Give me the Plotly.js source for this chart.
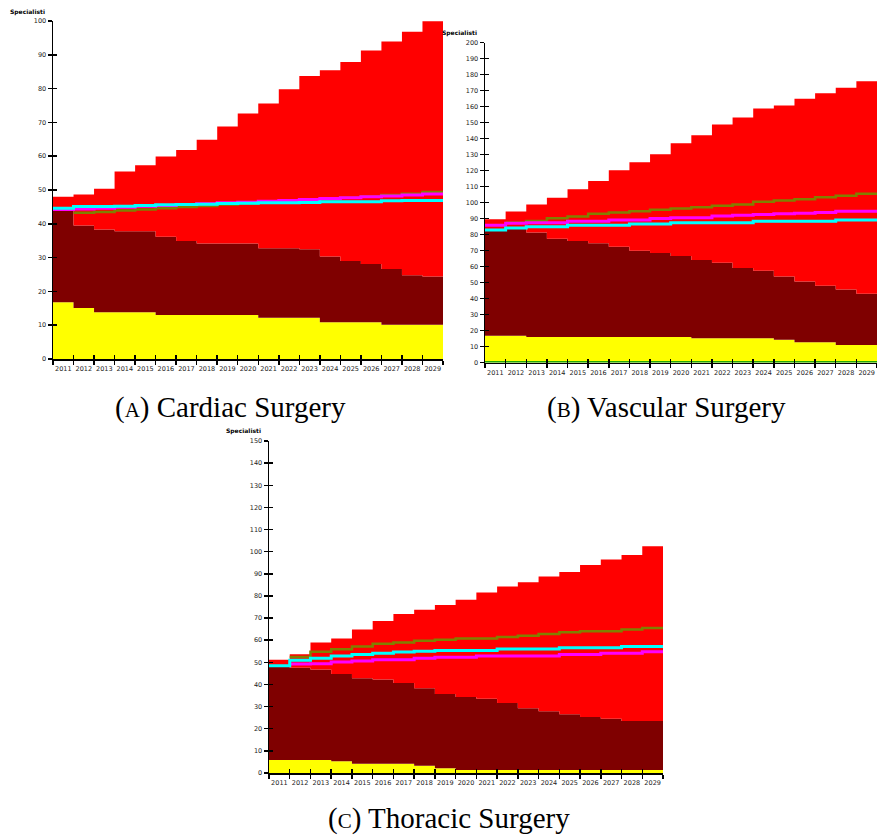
<!DOCTYPE html>
<html>
<head>
<meta charset="utf-8">
<script src="https://cdn.plot.ly/plotly-3.0.1.min.js"></script>
<style>html,body{margin:0;padding:0;background:#fff;}#chart{width:877px;height:837px;}</style>
</head>
<body>
<div id="chart"></div>
<script>
const years = [2011,2012,2013,2014,2015,2016,2017,2018,2019,2020,2021,2022,2023,2024,2025,2026,2027,2028,2029];
const yearLabels = years.map(String);

// (A) Cardiac Surgery — cumulative stack tops
const cardiacYellow  = [16.8,15.1,13.8,13.8,13.8,13.0,13.0,13.0,13.0,13.0,12.2,12.2,12.2,10.9,10.9,10.9,10.1,10.1,10.1];
const cardiacDarkRed = [43.9,39.5,38.3,37.8,37.8,36.2,34.9,34.2,34.2,34.2,32.8,32.8,32.5,30.3,29.0,28.1,26.6,24.8,24.4];
const cardiacRed     = [48.0,48.7,50.4,55.5,57.3,59.9,61.8,64.9,68.8,72.6,75.6,79.8,83.7,85.4,87.9,91.3,93.9,96.8,99.9];
const cardiacCyan    = [44.6,45.1,45.1,45.2,45.4,45.6,45.7,45.8,46.0,46.1,46.2,46.2,46.3,46.5,46.5,46.5,46.8,46.9,46.9];
const cardiacMagenta = [44.2,44.4,44.6,44.9,45.2,45.4,45.7,45.9,46.2,46.4,46.7,46.9,47.2,47.5,47.7,48.0,48.2,48.5,48.8];
const cardiacOlive   = [null,43.3,43.5,43.9,44.2,44.6,45.0,45.3,45.7,46.0,46.3,46.6,47.0,47.3,47.7,48.1,48.5,48.9,49.4];

// (B) Vascular Surgery
const vascularYellow  = [16.7,16.7,15.9,15.9,15.9,15.9,15.9,15.9,15.9,15.9,15.1,15.1,15.1,15.1,14.2,12.6,12.6,10.9,10.9];
const vascularDarkRed = [83.3,83.7,81.2,77.4,75.9,74.5,72.4,69.9,68.4,66.5,64.0,62.3,59.0,57.3,53.8,50.6,47.9,45.6,42.9];
const vascularRed     = [89.5,94.4,98.7,102.9,108.3,113.5,120.2,125.2,130.2,137.1,142.1,148.8,153.1,158.8,160.6,164.8,168.3,171.7,175.8];
const vascularCyan    = [82.8,84.1,84.9,84.9,85.8,85.8,85.8,86.6,86.6,87.4,87.4,87.4,87.4,88.3,88.3,88.3,88.3,89.1,89.1];
const vascularMagenta = [85.8,87.0,87.4,87.4,88.3,88.3,89.1,89.1,90.0,90.4,90.4,91.6,92.1,92.5,92.9,93.3,93.7,94.6,94.6];
const vascularOlive   = [null,87.4,88.5,90.2,91.2,92.9,93.7,94.6,95.4,96.2,97.1,97.9,98.7,100.4,101.3,102.1,103.3,104.2,105.4];
const vascularGreen   = [0,0,0,0,0,0,0,0,0,0,0,0,0,0,0,0,0,0,0];

// (C) Thoracic Surgery
const thoracicYellow  = [5.9,5.9,5.9,5.3,4.2,4.2,4.2,3.3,2.1,1.4,1.4,1.4,1.4,1.4,1.4,1.4,1.4,1.4,1.4];
const thoracicDarkRed = [47.9,47.6,46.8,44.7,42.8,42.2,40.7,38.3,35.7,34.3,33.6,31.6,29.2,27.9,26.5,25.3,24.5,23.5,23.5];
const thoracicRed     = [51.2,53.6,59.0,60.8,64.8,68.7,71.8,73.8,75.9,78.3,81.6,84.3,86.2,88.8,90.8,94.0,96.5,98.5,102.4];
const thoracicCyan    = [48.5,50.9,51.8,52.9,53.5,54.1,54.7,55.0,55.4,55.4,55.4,56.0,56.0,56.0,56.6,56.6,56.6,57.2,57.2];
const thoracicMagenta = [null,49.2,49.4,50.2,50.6,51.2,51.2,51.8,52.3,52.3,52.9,52.9,52.9,52.9,53.5,53.5,54.1,54.1,54.8];
const thoracicOlive   = [null,52.4,54.8,55.9,57.1,58.4,59.0,59.8,60.2,60.8,60.8,61.4,62.0,62.8,63.6,64.0,64.0,64.8,65.5];

const yAxisTitle = 'Specialisti';
const captions = ['Cardiac Surgery','Vascular Surgery','Thoracic Surgery'];
const captionLetters = ['A','B','C'];

const W = 877, H = 837;
const COL = {yellow:'#ffff00', darkred:'#7f0000', red:'#ff0000', cyan:'#00ffff', magenta:'#ff00ff', olive:'#808000', green:'#22a800'};

function ext(v){ return v.concat([v[v.length-1]]); }
const xs = years.concat([years[years.length-1]+1]);
const bounds = years.concat([years[years.length-1]+1]);
const mids = years.map(y => y + 0.5);

function panelTraces(xa, ya, d){
  const t = [];
  const base = {x: xs, xaxis: xa, yaxis: ya, mode:'lines', hoverinfo:'skip', showlegend:false};
  t.push(Object.assign({}, base, {y: ext(d.yellow), fill:'tozeroy', fillcolor:COL.yellow, line:{shape:'hv',width:0,color:COL.yellow}}));
  t.push(Object.assign({}, base, {y: ext(d.darkred), fill:'tonexty', fillcolor:COL.darkred, line:{shape:'hv',width:0,color:COL.darkred}}));
  t.push(Object.assign({}, base, {y: ext(d.red), fill:'tonexty', fillcolor:COL.red, line:{shape:'hv',width:0,color:COL.red}}));
  if (d.green) t.push(Object.assign({}, base, {y: ext(d.green), line:{shape:'hv',width:3,color:COL.green}}));
  t.push(Object.assign({}, base, {y: ext(d.olive), line:{shape:'hv',width:2.5,color:COL.olive}}));
  t.push(Object.assign({}, base, {y: ext(d.magenta), line:{shape:'hv',width:3,color:COL.magenta}}));
  t.push(Object.assign({}, base, {y: ext(d.cyan), line:{shape:'hv',width:3,color:COL.cyan}}));
  return t;
}

const data = []
  .concat(panelTraces('x','y',{yellow:cardiacYellow,darkred:cardiacDarkRed,red:cardiacRed,cyan:cardiacCyan,magenta:cardiacMagenta,olive:cardiacOlive}))
  .concat(panelTraces('x2','y2',{yellow:vascularYellow,darkred:vascularDarkRed,red:vascularRed,cyan:vascularCyan,magenta:vascularMagenta,olive:vascularOlive,green:vascularGreen}))
  .concat(panelTraces('x3','y3',{yellow:thoracicYellow,darkred:thoracicDarkRed,red:thoracicRed,cyan:thoracicCyan,magenta:thoracicMagenta,olive:thoracicOlive}));

const panels = [
  {l:53, r:443, b:359, t:21, ymax:100, xa:'xaxis', ya:'yaxis', xid:'x', yid:'y'},
  {l:485, r:877, b:362.5, t:42.5, ymax:200, xa:'xaxis2', ya:'yaxis2', xid:'x2', yid:'y2'},
  {l:269, r:663, b:773, t:441, ymax:150, xa:'xaxis3', ya:'yaxis3', xid:'x3', yid:'y3'}
];

const tickFont = {family:'DejaVu Sans, Arial, sans-serif', size:6.5, color:'#222'};
const layout = {
  width: W, height: H, margin:{l:0,r:0,t:0,b:0},
  paper_bgcolor:'#fff', plot_bgcolor:'rgba(0,0,0,0)',
  showlegend:false, annotations:[]
};

panels.forEach((p, i) => {
  layout[p.xa] = {
    domain:[p.l/W, Math.min(1, p.r/W)], range:[years[0], years[years.length-1]+1],
    anchor:p.yid, showgrid:false, zeroline:false, showline:true, linecolor:'#000', linewidth:1.5,
    tickmode:'array', tickvals: mids, ticktext: yearLabels,
    ticks:'', tickfont: tickFont, tickangle:0, ticklabelstandoff:3,
    minor:{tickmode:'array', tickvals:bounds, ticks:'outside', ticklen:4, tickwidth:1.5, tickcolor:'#000', showgrid:false}
  };
  layout[p.ya] = {
    domain:[1-p.b/H, 1-p.t/H], range:[0, p.ymax],
    anchor:p.xid, showgrid:false, zeroline:false, showline:true, linecolor:'#000', linewidth:1.5,
    tickmode:'linear', tick0:0, dtick:10,
    ticks:'outside', ticklen:4, tickwidth:1.5, tickcolor:'#000', tickfont: tickFont
  };
  layout.annotations.push({
    xref:'paper', yref:'paper', x:(p.l-6)/W, y:1-(p.t-9.5)/H, xanchor:'right', yanchor:'middle',
    text:'<b>'+yAxisTitle+'</b>', showarrow:false, font:{family:'DejaVu Sans, Arial, sans-serif', size:6, color:'#000'}
  });
});

// inside-tick overlays so the ticks cross the axis lines
panels.forEach((p, k) => {
  const n = 4 + k;
  layout['xaxis'+n] = {
    overlaying: p.xid, anchor: 'y'+n, range:[years[0], years[years.length-1]+1],
    showgrid:false, zeroline:false, showline:false, showticklabels:false,
    tickmode:'array', tickvals: bounds,
    ticks:'inside', ticklen:4, tickwidth:1.5, tickcolor:'#000'
  };
  layout['yaxis'+n] = {
    overlaying: p.yid, anchor: 'x'+n, range:[0, p.ymax],
    showgrid:false, zeroline:false, showline:false, showticklabels:false,
    tickmode:'linear', tick0:0, dtick:10,
    ticks:'inside', ticklen:4, tickwidth:1.5, tickcolor:'#000'
  };
  data.push({x:[years[0]], y:[0], xaxis:'x'+n, yaxis:'y'+n, mode:'markers', marker:{opacity:0}, hoverinfo:'skip', showlegend:false});
});

const capPos = [[230.5, 408], [666, 408], [448.5, 818]];
captions.forEach((c, i) => {
  layout.annotations.push({
    xref:'paper', yref:'paper', x:capPos[i][0]/W, y:1-capPos[i][1]/H, xanchor:'center', yanchor:'middle',
    text:'(<span style="font-size:21px">'+captionLetters[i]+'</span>) '+c, showarrow:false,
    font:{family:'"Liberation Serif", "DejaVu Serif", serif', size:29, color:'#000'}
  });
});

Plotly.newPlot('chart', data, layout, {staticPlot:true, displayModeBar:false});
</script>
</body>
</html>
